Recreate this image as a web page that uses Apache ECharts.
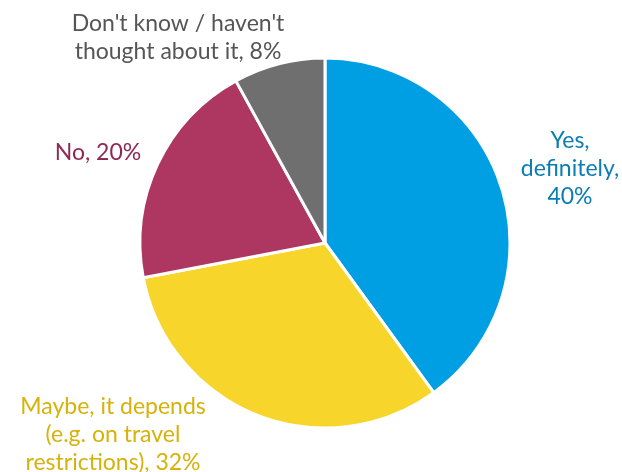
<!DOCTYPE html>
<html>
<head>
<meta charset="utf-8">
<script src="https://cdn.jsdelivr.net/npm/echarts@6/dist/echarts.min.js"></script>
<style>
html,body{margin:0;padding:0;background:#fff;}
#chart{width:622px;height:472px;}
</style>
</head>
<body>
<div id="chart"></div>
<script>
var labels = ["Yes,\ndefinitely,\n40%", "Maybe, it depends\n(e.g. on travel\nrestrictions), 32%", "No, 20%", "Don't know / haven't\nthought about it, 8%"];
var values = [40, 32, 20, 8];
var sliceColors = ["#009FE3", "#F8D52B", "#AE3762", "#6F6F6F"];
var textColors = ["#0B7DB5", "#D6B20A", "#8E2950", "#555555"];
// label anchor points (centre of text block)
var labelPos = [[570, 169], [113, 435], [98, 153], [178, 38]];

var myChart = echarts.init(document.getElementById("chart"));

var pieData = [];
for (var i = 0; i < values.length; i++) {
	pieData.push({
		name: labels[i],
		value: values[i],
		itemStyle: {color: sliceColors[i]},
		label: {color: textColors[i]}
	});
}

var option = {
	animation: false,
	series: [{
		type: 'pie',
		center: [325, 243],
		radius: 185,
		startAngle: 90,
		clockwise: true,
		itemStyle: {borderColor: '#fff', borderWidth: 3},
		label: {
			show: true,
			position: 'outside',
			formatter: '{b}',
			fontFamily: 'Lato',
			fontSize: 23,
			lineHeight: 28,
			align: 'center',
			overflow: 'none',
			width: 300
		},
		labelLine: {show: false},
		labelLayout: function (params) {
			var p = labelPos[params.dataIndex];
			return {x: p[0], y: p[1], align: 'center', verticalAlign: 'middle'};
		},
		data: pieData
	}]
};

myChart.setOption(option);
</script>
</body>
</html>
